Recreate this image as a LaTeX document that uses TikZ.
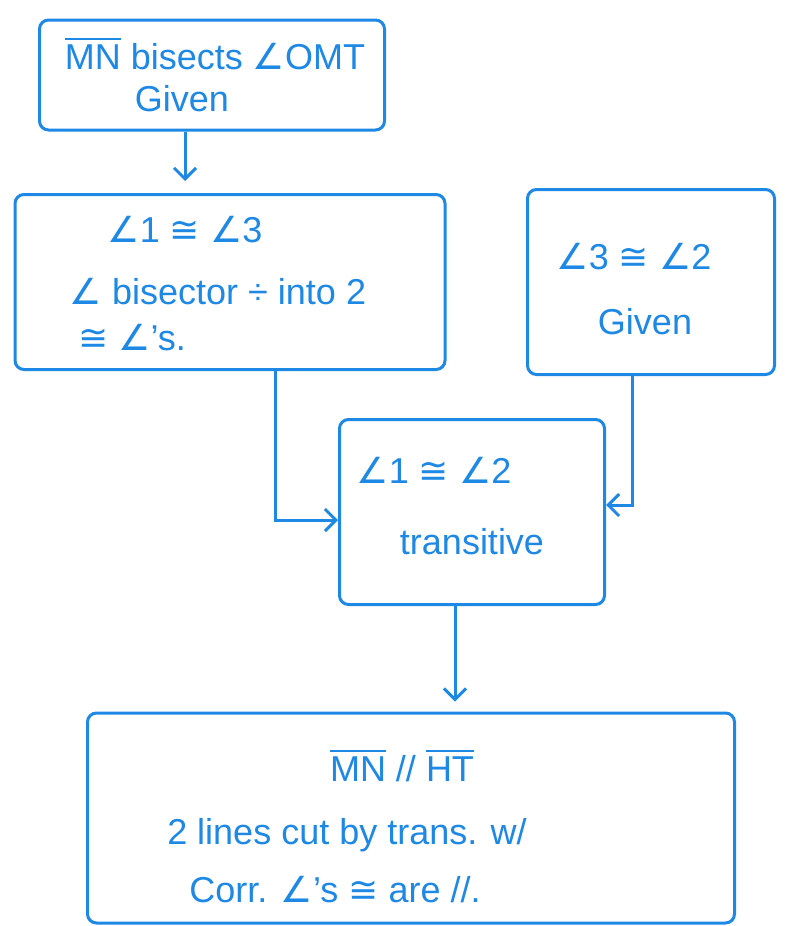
\documentclass[tikz,border=0pt]{standalone}
\usepackage{fontspec}
\setmainfont{Liberation Sans}
\newfontfamily\sym{DejaVu Sans}
\usetikzlibrary{arrows.meta}
\definecolor{ink}{HTML}{1E88E5}
\newcommand{\ang}{{\sym ∠}}
\newcommand{\cng}{{\sym ≅}}
\newcommand{\ovl}[1]{\leavevmode\vbox{\hrule height 2.4pt\kern5pt\hbox{#1}}}
\tikzset{
  box/.style={draw=ink, line width=3pt, rounded corners=9pt, inner sep=0pt},
  txt/.style={text=ink, inner sep=1pt, font=\fontsize{36}{44}\selectfont},
  conn/.style={draw=ink, line width=3pt, -{Straight Barb[length=11pt,width=22pt,line width=3pt]}}
}
\begin{document}
\begin{tikzpicture}[x=1pt,y=-1pt]
\useasboundingbox (0,0) rectangle (785,926);
\node[box, minimum width=345pt, minimum height=110pt] (b1) at (212,75) {};
\node[box, minimum width=430pt, minimum height=175pt] (b2) at (230,282) {};
\node[box, minimum width=247pt, minimum height=185pt] (b3) at (651,282) {};
\node[box, minimum width=265pt, minimum height=185pt] (b4) at (472,512) {};
\node[box, minimum width=647pt, minimum height=210pt] (b5) at (411,818) {};
% texts
\node[txt] (t11) at (215,54) {\ovl{MN} bisects \ang OMT};
\node[txt] (t12) at (182,99) {Given};
\node[txt] (t21) at (185,230) {\ang1 \cng\ \ang3};
\node[txt] (t22) at (218,292) {\ang\ bisector ÷ into 2};
\node[txt] (t23) at (132,338) {\cng\ \ang's.};
\node[txt] (t31) at (634,257) {\ang3 \cng\ \ang2};
\node[txt] (t32) at (645,322) {Given};
\node[txt] (t41) at (434,470) {\ang1 \cng\ \ang2};
\node[txt] (t42) at (472,542) {transitive};
\node[txt] (t51) at (402,766) {\ovl{MN} // \ovl{HT}};
\node[txt] (t52) at (347,835) {2 lines cut by trans. w/};
\node[txt] (t53) at (335,890) {Corr. \ang's \cng\ are //.};
% connectors
\draw[conn, shorten >=12pt] (b1.south -| 185,0) -- (b2.north -| 185,0);
\draw[conn] (b2.south -| 275,0) |- ([yshift=-8pt]b4.west);
\draw[conn] (b3.south -| 632,0) |- ([yshift=7pt]b4.east);
\draw[conn, shorten >=10pt] (b4.south -| 455,0) -- (b5.north -| 455,0);
\end{tikzpicture}
\end{document}
